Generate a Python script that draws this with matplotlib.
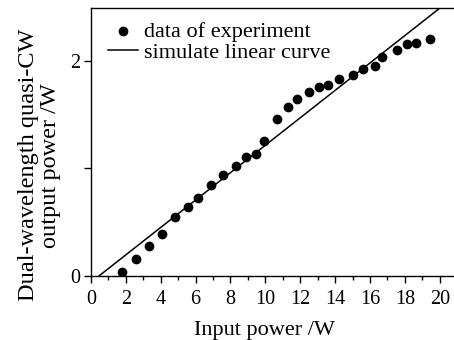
import numpy as np
import matplotlib.pyplot as plt
from matplotlib.ticker import MultipleLocator, FixedLocator

plt.rcParams['font.family'] = ['Liberation Serif', 'DejaVu Serif']

# measured points
input_power = [1.76, 2.58, 3.30, 4.09, 4.83, 5.54, 6.15, 6.91, 7.55, 8.29, 8.90, 9.49,
               9.95, 10.68, 11.31, 11.80, 12.51, 13.05, 13.58, 14.25, 15.00, 15.59,
               16.26, 16.70, 17.57, 18.10, 18.62, 19.45]
output_power = [0.034, 0.155, 0.28, 0.39, 0.55, 0.645, 0.73, 0.85, 0.94, 1.02, 1.11, 1.135,
                1.256, 1.457, 1.57, 1.65, 1.71, 1.76, 1.78, 1.83, 1.87, 1.925,
                1.95, 2.04, 2.105, 2.16, 2.17, 2.20]

# linear fit line (threshold and slope)
fit_x = [0.45, 20.0]
fit_y = [0.0, 2.49]

fig = plt.figure(figsize=(4.54, 3.40), dpi=100)
ax = fig.add_axes([0.2004, 0.188, 0.797, 0.788])

ax.scatter(input_power, output_power, s=36, color='black', zorder=3,
           label='data of experiment')
ax.plot(fit_x, fit_y, color='black', lw=1.1, label='simulate linear curve')

ax.set_xlim(0, 20.75)
ax.set_ylim(0, 2.49)
ax.xaxis.set_major_locator(MultipleLocator(2))
ax.xaxis.set_minor_locator(MultipleLocator(1))
ax.yaxis.set_major_locator(FixedLocator([0, 1, 2]))
ax.set_yticklabels(['0', '', '2'])

ax.spines['right'].set_visible(False)
for s in ['left', 'bottom', 'top']:
    ax.spines[s].set_linewidth(1.0)
ax.tick_params(axis='both', which='major', direction='out', length=5, width=1,
               labelsize=14.5, pad=3)
ax.tick_params(axis='x', which='major', pad=5)
ax.tick_params(axis='x', which='minor', direction='out', length=3, width=1)
ax.tick_params(top=False, right=False)

ax.set_xlabel('Input power /W', fontsize=16)
ax.xaxis.set_label_coords(0.478, -0.168)
ax.set_ylabel('Dual-wavelength quasi-CW\noutput power /W', fontsize=17.5,
              linespacing=1.05)
ax.yaxis.set_label_coords(-0.083, 0.414)

ax.legend(loc='upper left', frameon=False, fontsize=16, handlelength=1.35,
          handletextpad=0.25, borderaxespad=0, borderpad=0, labelspacing=0.05,
          bbox_to_anchor=(0.047, 0.952), markerscale=1.0)

fig.savefig('out.png', dpi=100)
